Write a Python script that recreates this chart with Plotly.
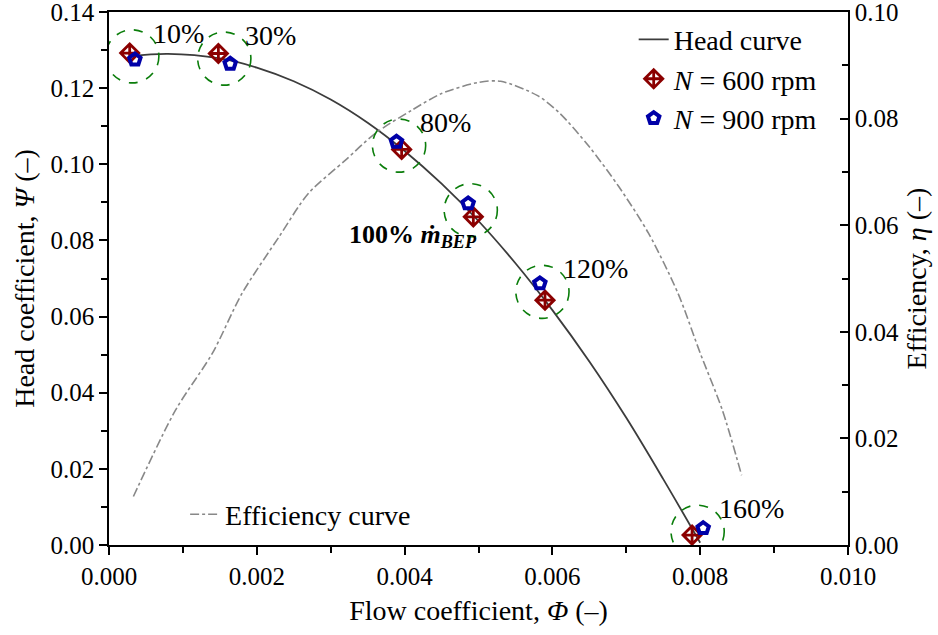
import plotly.graph_objects as go

# ---------------- data ----------------
head_phi = [0.0003, 0.0008, 0.0015, 0.0020, 0.0025, 0.0030, 0.0035, 0.0040, 0.0045,
            0.0050, 0.0055, 0.0060, 0.0065, 0.0070, 0.0075, 0.0080]
head_psi = [0.1284, 0.1290, 0.1278, 0.1254, 0.1218, 0.1170, 0.1109, 0.1035, 0.0949,
            0.0851, 0.0740, 0.0617, 0.0482, 0.0334, 0.0173, 0.0006]

eff_phi = [0.00033, 0.0009, 0.0014, 0.0018, 0.0023, 0.0027, 0.0032, 0.0036, 0.0041, 0.0045,
           0.0050, 0.0053, 0.0058, 0.0061, 0.0065, 0.0069, 0.0073, 0.0077, 0.0080, 0.0083, 0.00856]
eff_eta = [0.0091, 0.0253, 0.0360, 0.0472, 0.0578, 0.0660, 0.0722, 0.0772, 0.0816, 0.0847,
           0.0868, 0.0870, 0.0843, 0.0810, 0.0747, 0.0672, 0.0585, 0.0472, 0.0360, 0.0253, 0.0131]

n600_phi = [0.00028, 0.00148, 0.00396, 0.00493, 0.00590, 0.00789]
n600_psi = [0.1292, 0.1291, 0.1039, 0.0862, 0.0643, 0.0026]
n900_phi = [0.00035, 0.00164, 0.00389, 0.00486, 0.00583, 0.00804]
n900_psi = [0.1275, 0.1264, 0.1059, 0.0897, 0.0687, 0.0044]
point_labels = ["10%", "30%", "80%", "", "120%", "160%"]
bep_label = "<b>100% <i>ṁ</i><sub><i>BEP</i></sub></b>"

FONT = "Liberation Serif, Times New Roman, serif"

fig = go.Figure()

fig.add_trace(go.Scatter(
    x=head_phi, y=head_psi, mode="lines", name="Head curve",
    line=dict(color="#3c3c3c", width=1.8, shape="spline"),
    legend="legend"))
fig.add_trace(go.Scatter(
    x=n600_phi, y=n600_psi, mode="markers", name="<i>N</i> = 600 rpm",
    marker=dict(symbol="diamond-cross-open", size=14, color="#8b0000",
                line=dict(width=2.8, color="#8b0000")),
    cliponaxis=False, legend="legend"))
fig.add_trace(go.Scatter(
    x=n900_phi, y=n900_psi, mode="markers", name="<i>N</i> = 900 rpm",
    marker=dict(symbol="pentagon-open", size=12, color="#0000a8",
                line=dict(width=4, color="#0000a8")),
    cliponaxis=False, legend="legend"))
fig.add_trace(go.Scatter(
    x=eff_phi, y=eff_eta, mode="lines", name="Efficiency curve",
    line=dict(color="#888888", width=1.6, dash="dashdot", shape="spline", smoothing=0.8),
    yaxis="y2", legend="legend2"))

# dashed circles around each operating point pair + labels
rx, ry = 0.00036, 0.00697
for i in range(len(n600_phi)):
    cx = (n600_phi[i] + n900_phi[i]) / 2
    cy = (n600_psi[i] + n900_psi[i]) / 2
    fig.add_shape(type="circle", xref="x", yref="y",
                  x0=cx - rx, x1=cx + rx, y0=cy - ry, y1=cy + ry,
                  line=dict(color="#0a7d0a", width=1.6, dash="dash"), layer="above")
    if point_labels[i]:
        fig.add_annotation(x=cx, y=cy, xref="x", yref="y", text=point_labels[i],
                           showarrow=False, xanchor="left", yanchor="middle",
                           xshift=19, yshift=23,
                           font=dict(family=FONT, size=28, color="black"))
    else:
        fig.add_annotation(x=cx, y=cy, xref="x", yref="y", text=bep_label,
                           showarrow=False, xanchor="right", yanchor="middle",
                           xshift=8, yshift=-26,
                           font=dict(family=FONT, size=26, color="black"))

axis_common = dict(showline=True, linecolor="black", linewidth=1.5,
                   ticks="outside", ticklen=8, tickwidth=1.5, tickcolor="black",
                   showgrid=False, zeroline=False, automargin=False,
                   ticklabeloverflow="allow",
                   tickfont=dict(family=FONT, size=25, color="black"))

fig.update_layout(
    width=938, height=635,
    margin=dict(l=109, r=90, t=12, b=90),
    paper_bgcolor="white", plot_bgcolor="white",
    font=dict(family=FONT, color="black"),
    xaxis=dict(range=[0, 0.010], dtick=0.002, tickformat=".3f", mirror=True,
               minor=dict(dtick=0.001, ticks="outside", ticklen=6, tickwidth=1.5, tickcolor="black"),
               title=dict(text="Flow coefficient, <i>Φ</i> (–)", standoff=12,
                          font=dict(family=FONT, size=28, color="black")),
               **axis_common),
    yaxis=dict(range=[0, 0.14], dtick=0.02, tickformat=".2f",
               minor=dict(dtick=0.01, ticks="outside", ticklen=6, tickwidth=1.5, tickcolor="black"),
               title=dict(text="Head coefficient, <i>Ψ</i> (–)", standoff=8,
                          font=dict(family=FONT, size=28, color="black")),
               **axis_common),
    yaxis2=dict(range=[0, 0.10], dtick=0.02, tickformat=".2f", overlaying="y", side="right",
                showline=True, linecolor="black", linewidth=1.5, automargin=False,
                ticklabeloverflow="allow",
                ticks="inside", ticklen=8, tickwidth=1.5, tickcolor="black",
                showgrid=False, zeroline=False,
                tickfont=dict(family=FONT, size=25, color="black"),
                minor=dict(dtick=0.01, ticks="inside", ticklen=6, tickwidth=1.5, tickcolor="black"),
                title=dict(text="Efficiency, <i>η</i> (–)", standoff=8,
                           font=dict(family=FONT, size=28, color="black"))),
    legend=dict(x=0.71, y=0.995, xanchor="left", yanchor="top",
                bgcolor="rgba(0,0,0,0)", font=dict(family=FONT, size=28, color="black"),
                tracegroupgap=0, itemsizing="trace"),
    legend2=dict(x=0.103, y=0.057, xanchor="left", yanchor="middle",
                 bgcolor="rgba(0,0,0,0)", font=dict(family=FONT, size=28, color="black")),
)

fig.write_html("out.html", config={"displayModeBar": False},
               post_script="document.body.style.margin='0';")
